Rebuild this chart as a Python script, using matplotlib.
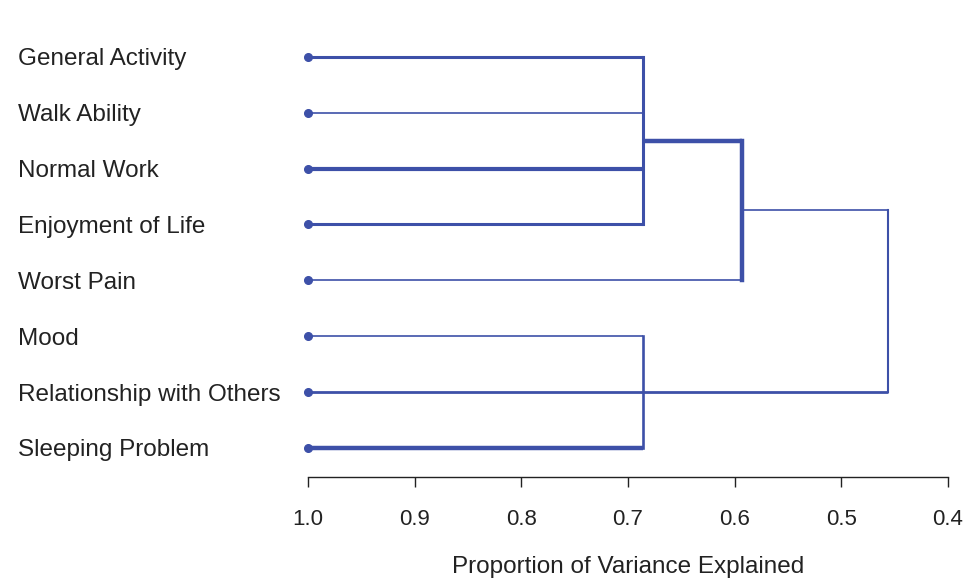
import matplotlib
matplotlib.use("Agg")
import matplotlib.pyplot as plt
from matplotlib.transforms import blended_transform_factory

plt.rcParams['font.family'] = ['Liberation Sans', 'DejaVu Sans']

# variables, top to bottom
labels = ['General Activity', 'Walk Ability', 'Normal Work', 'Enjoyment of Life',
          'Worst Pain', 'Mood', 'Relationship with Others', 'Sleeping Problem']

# merge heights (proportion of variance explained)
h_a = 0.686     # General Activity .. Enjoyment of Life
h_b = 0.593     # cluster A + Worst Pain
h_c = 0.686     # Mood, Relationship, Sleeping Problem
h_root = 0.456  # everything

# parent height for each leaf
leaf_parent = [h_a, h_a, h_a, h_a, h_b, h_c, h_c, h_c]

# line widths (points)
leaf_lw = [2.2, 1.2, 3.0, 2.2, 1.2, 1.2, 2.0, 3.2]
col = '#3D50A8'

fig = plt.figure(figsize=(9.68, 5.86), dpi=100)
ax = fig.add_axes([308 / 968, 1 - 477 / 586, 640 / 968, 447 / 586])

rows = list(range(len(labels)))

# leaves
for r, hp, lw in zip(rows, leaf_parent, leaf_lw):
    ax.plot([1.0, hp], [r, r], color=col, lw=lw, solid_capstyle='butt', zorder=2)
    ax.plot(1.0, r, 'o', color=col, ms=5.5, zorder=3, clip_on=False)

# cluster A
ya = sum(rows[0:4]) / 4
ax.plot([h_a, h_a], [0, 3], color=col, lw=2.2, solid_capstyle='projecting')
ax.plot([h_a, h_b], [ya, ya], color=col, lw=3.2, solid_capstyle='butt')

# cluster B
yb = (ya + 4) / 2
ax.plot([h_b, h_b], [ya, 4], color=col, lw=3.2, solid_capstyle='projecting')
ax.plot([h_b, h_root], [yb, yb], color=col, lw=1.2, solid_capstyle='butt')

# cluster C
yc = sum(rows[5:8]) / 3
ax.plot([h_c, h_c], [5, 7], color=col, lw=1.9, solid_capstyle='projecting')
ax.plot([h_c, h_root], [yc, yc], color=col, lw=2.0, solid_capstyle='butt')

# root
ax.plot([h_root, h_root], [yb, yc], color=col, lw=1.5, solid_capstyle='projecting')

ax.set_xlim(1.0, 0.4)
ax.set_ylim(7.52, -0.48)

trans = blended_transform_factory(fig.transFigure, ax.transData)
for r, lab in zip(rows, labels):
    ax.text(18 / 968, r, lab, transform=trans, ha='left', va='center_baseline',
            fontsize=17.5, color='#222222')

ax.set_yticks([])
for s in ['left', 'right', 'top']:
    ax.spines[s].set_visible(False)
ax.spines['bottom'].set_color('#222222')
ax.spines['bottom'].set_linewidth(1.0)
ax.spines['bottom'].set_bounds(1.0, 0.4)
ax.set_xticks([1.0, 0.9, 0.8, 0.7, 0.6, 0.5, 0.4])
ax.set_xticklabels(['1.0', '0.9', '0.8', '0.7', '0.6', '0.5', '0.4'])
ax.tick_params(axis='x', length=7, width=1.0, color='#222222', pad=16,
               labelsize=16, labelcolor='#222222')
ax.set_xlabel('Proportion of Variance Explained', fontsize=17.5, color='#222222',
              labelpad=19)

fig.savefig('out.png', dpi=100)
